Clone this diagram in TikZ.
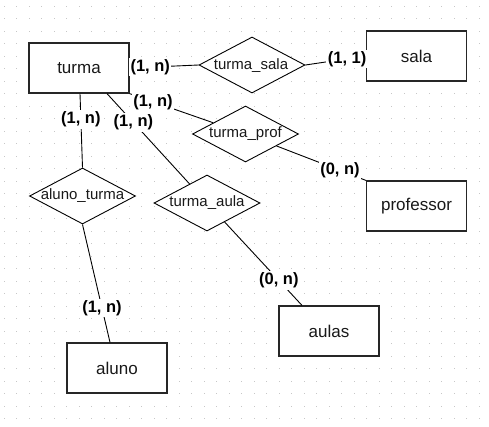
\documentclass[tikz,border=0pt]{standalone}
\usepackage{fontspec}
\setmainfont{Liberation Sans}
\usetikzlibrary{shapes.geometric}
\begin{document}
\begin{tikzpicture}[x=1pt,y=-1pt,
  entity/.style={draw=black!85, fill=white, line width=1.2pt, minimum width=100pt, minimum height=50pt, inner sep=0pt, font=\fontsize{17}{20}\selectfont, text=black!90},
  rel/.style={draw=black, fill=white, line width=0.9pt, shape=diamond, minimum width=106pt, minimum height=56pt, inner sep=0pt},
  reltext/.style={font=\fontsize{15}{18}\selectfont, inner sep=0pt, text=black!90},
  card/.style={font=\bfseries\fontsize{16.5}{19}\selectfont, fill=white, inner sep=1.5pt},
  conn/.style={draw=black, line width=0.9pt},
  dotmark/.style={fill=black!22}]
\useasboundingbox[fill=white] (0,0) rectangle (489,426);
% grid dots
\foreach \i in {0,...,38}{
  \foreach \j in {0,...,33}{
    \fill[dotmark] ({4.2+12.5*\i-0.6},{6.3+12.5*\j-0.6}) rectangle ++(1.2,1.2);
  }
}
% entities
\node[entity] (turma) at (79,68) {turma};
\node[entity] (sala) at (416.5,56) {sala};
\node[entity] (prof) at (416.5,206) {professor};
\node[entity] (aulas) at (329,331) {aulas};
\node[entity] (aluno) at (117,368) {aluno};
% relationships
\node[rel] (tsala) at (252,65) {};
\node[reltext] (tsalat) at (251,66) {turma\_sala};
\node[rel] (tprof) at (245.5,134) {};
\node[reltext] (tproft) at (245.5,134) {turma\_prof};
\node[rel] (aturma) at (82.5,196) {};
\node[reltext] (aturmat) at (82.5,196) {aluno\_turma};
\node[rel] (taula) at (207,203) {};
\node[reltext] (taulat) at (207,203) {turma\_aula};
% connectors
\draw[conn] (turma.east) -- node[card,pos=0.3] (c1) {(1, n)} (tsala.west);
\draw[conn] (tsala.east) -- node[card,pos=0.69] (c2) {(1, 1)} (sala.west);
\draw[conn] (turma.south east) -- node[card,pos=0.28] (c3) {(1, n)} (tprof);
\draw[conn] ([xshift=28pt]turma.south) -- node[card,pos=0.32] (c4) {(1, n)} (taula);
\draw[conn] ([xshift=1pt]turma.south) -- node[card,pos=0.35] (c5) {(1, n)} (aturma.north);
\draw[conn] (aturma.south) -- node[card,pos=0.71] (c6) {(1, n)} ([xshift=-7pt]aluno.north);
\draw[conn] (tprof) -- node[card,pos=0.71] (c7) {(0, n)} (prof.north west);
\draw[conn] (taula) -- node[card,pos=0.70] (c8) {(0, n)} ([xshift=-27pt]aulas.north);
\end{tikzpicture}
\end{document}
